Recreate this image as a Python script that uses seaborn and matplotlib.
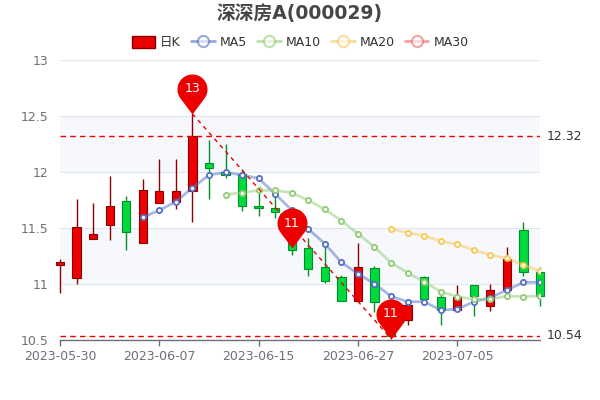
import numpy as np
import pandas as pd
import matplotlib
matplotlib.use("Agg")
import matplotlib.pyplot as plt
import seaborn as sns
from matplotlib.path import Path
from matplotlib.lines import Line2D
from matplotlib.patches import Patch

# ---------------- data ----------------
dates = ["2023-05-30", "2023-05-31", "2023-06-01", "2023-06-02", "2023-06-05",
         "2023-06-06", "2023-06-07", "2023-06-08", "2023-06-09", "2023-06-12",
         "2023-06-13", "2023-06-14", "2023-06-15", "2023-06-16", "2023-06-19",
         "2023-06-20", "2023-06-21", "2023-06-26", "2023-06-27", "2023-06-28",
         "2023-06-29", "2023-06-30", "2023-07-03", "2023-07-04", "2023-07-05",
         "2023-07-06", "2023-07-07", "2023-07-10", "2023-07-11", "2023-07-12"]
opens = [11.17, 11.05, 11.40, 11.53, 11.74, 11.37, 11.72, 11.73, 11.83, 12.08,
         12.00, 11.98, 11.70, 11.68, 11.45, 11.32, 11.15, 11.06, 10.85, 11.14,
         10.80, 10.68, 11.06, 10.88, 10.77, 10.99, 10.80, 10.95, 11.48, 11.11]
closes = [11.20, 11.51, 11.45, 11.70, 11.46, 11.84, 11.83, 11.83, 12.32, 12.04,
          11.97, 11.70, 11.68, 11.64, 11.30, 11.13, 11.03, 10.85, 11.15, 10.84,
          10.54, 10.81, 10.87, 10.77, 10.88, 10.89, 10.95, 11.22, 11.11, 10.89]
highs = [11.22, 11.76, 11.72, 11.96, 11.79, 11.94, 12.12, 12.12, 12.52, 12.29,
         12.25, 12.03, 11.82, 11.79, 11.50, 11.41, 11.35, 11.08, 11.37, 11.16,
         10.85, 10.81, 11.07, 10.90, 10.99, 10.99, 11.00, 11.33, 11.55, 11.15]
lows = [10.92, 11.00, 11.40, 11.39, 11.30, 11.37, 11.72, 11.67, 11.55, 11.76,
        11.95, 11.65, 11.61, 11.59, 11.26, 11.07, 11.01, 10.85, 10.85, 10.75,
        10.51, 10.63, 10.87, 10.63, 10.76, 10.71, 10.76, 10.95, 11.07, 10.80]

ma5 = [np.nan] * 5 + [11.595, 11.658, 11.735, 11.860, 11.973, 11.997, 11.973, 11.943,
                      11.804, 11.660, 11.491, 11.360, 11.193, 11.092, 11.003, 10.890,
                      10.842, 10.842, 10.768, 10.774, 10.842, 10.878, 10.946, 11.015,
                      11.015]
ma10 = [np.nan] * 10 + [11.798, 11.815, 11.836, 11.836, 11.815, 11.747, 11.667, 11.565,
                        11.449, 11.330, 11.190, 11.101, 11.018, 10.932, 10.887, 10.863,
                        10.863, 10.893, 10.887, 10.893]
ma20 = [np.nan] * 20 + [11.491, 11.458, 11.432, 11.381, 11.354, 11.304, 11.259, 11.229,
                        11.170, 11.113]
ma30 = [np.nan] * 30

max_close = 12.32
min_close = 10.54
pin_idx = [8, 14, 20]
pin_val = [12.52, 11.32, 10.51]
tick_idx = [0, 6, 12, 18, 24]

# ---------------- style ----------------
sns.set_theme(style="white")
plt.rcParams["font.family"] = ["DejaVu Sans", "Noto Sans CJK SC"]

UP, UP_B = "#ec0000", "#8a0000"
DN, DN_B = "#00da3c", "#008f28"
C5, C10, C20, C30 = "#5470c6", "#91cc75", "#fac858", "#ee6666"
AX = "#6e7079"

fig = plt.figure(figsize=(6, 4), dpi=100)
ax = fig.add_axes([0.1, 0.15, 0.8, 0.70])
ax.set_xlim(0, 29)
ax.set_ylim(10.5, 13)

# split areas & grid
for lo in (11.0, 12.0):
    ax.axhspan(lo, lo + 0.5, color="#f6f8fc", zorder=0, lw=0)
for yv in np.arange(10.5, 13.01, 0.5):
    ax.axhline(yv, color="#e0e6f1", lw=0.8, zorder=0.5)

df = pd.DataFrame({"i": np.arange(len(dates)), "date": dates, "open": opens,
                   "close": closes, "high": highs, "low": lows,
                   "MA5": ma5, "MA10": ma10, "MA20": ma20, "MA30": ma30})

# candles
for _, r in df.iterrows():
    up = r.close >= r.open
    fc, ec = (UP, UP_B) if up else (DN, DN_B)
    ax.vlines(r.i, r.low, r.high, color=ec, lw=1.0, zorder=2, clip_on=False)
    bot = min(r.open, r.close)
    h = max(abs(r.close - r.open), 0.004)
    ax.bar(r.i, h, bottom=bot, width=0.5, color=fc, edgecolor=ec,
           linewidth=0.8, zorder=3, clip_on=False)

# moving averages
for name, col in (("MA5", C5), ("MA10", C10), ("MA20", C20), ("MA30", C30)):
    sub = df[["i", name]].dropna()
    if len(sub) == 0:
        continue
    sns.lineplot(data=sub, x="i", y=name, ax=ax, color=col, lw=2, alpha=0.5,
                 zorder=4, sort=False)
    sns.scatterplot(data=sub, x="i", y=name, ax=ax, color="white",
                    edgecolor=col, s=14, linewidth=1.3, zorder=5)

# mark lines
for v in (max_close, min_close):
    ax.axhline(v, color=UP, lw=1, ls=(0, (4, 3)), zorder=6)
    ax.annotate(f"{v:.2f}", xy=(1, v), xycoords=("axes fraction", "data"),
                xytext=(5, 0), textcoords="offset points", va="center",
                ha="left", fontsize=9, color="#333333")
ax.plot([pin_idx[0], pin_idx[2]], [highs[pin_idx[0]], lows[pin_idx[2]]],
        color=UP, lw=1, ls=(0, (3, 3)), zorder=6)

# pins
def pin_path(r=15, c=25):
    a = np.arccos(r / c)
    t = np.linspace(-np.pi / 2 + a, 3 * np.pi / 2 - a, 80)
    verts = [(0, 0)] + list(zip(r * np.cos(t), c + r * np.sin(t))) + [(0, 0)]
    codes = [Path.MOVETO] + [Path.LINETO] * (len(verts) - 2) + [Path.CLOSEPOLY]
    return Path(verts, codes)

pp = pin_path()
for xi, v in zip(pin_idx, pin_val):
    ax.plot([xi], [v], marker=pp, markersize=57.6, color=UP, mec="none",
            zorder=8, clip_on=False)
    ax.annotate(f"{v:.0f}", xy=(xi, v), xytext=(0, 18), textcoords="offset points",
                ha="center", va="center", color="white", fontsize=9, zorder=9)

# axes styling
for s in ("top", "right", "left"):
    ax.spines[s].set_visible(False)
ax.spines["bottom"].set_color(AX)
ax.spines["bottom"].set_linewidth(1)
ax.spines["bottom"].set_zorder(7)
ax.set_xticks(tick_idx)
ax.set_xticklabels([dates[k] for k in tick_idx])
ax.set_yticks(np.arange(10.5, 13.01, 0.5))
ax.set_yticklabels(["10.5", "11", "11.5", "12", "12.5", "13"])
ax.tick_params(axis="x", colors=AX, labelsize=9, length=4, width=1, direction="out",
               bottom=True, pad=3)
ax.tick_params(axis="y", colors=AX, labelsize=9, length=0, pad=8)
ax.set_xlabel("")
ax.set_ylabel("")

# title & legend
fig.text(0.5, 0.965, "深深房A(000029)", ha="center", va="center", fontsize=13.5,
         fontweight="bold", color="#464646",
         family=["DejaVu Sans", "Noto Sans CJK SC"])
handles = [Patch(facecolor=UP, edgecolor=UP_B, linewidth=1)]
for col in (C5, C10, C20, C30):
    handles.append(Line2D([0], [0], color=col, lw=2, alpha=0.6, marker="o",
                          markersize=8, markerfacecolor="white",
                          markeredgecolor=col, markeredgewidth=1.5))
leg = fig.legend(handles, ["日K", "MA5", "MA10", "MA20", "MA30"], loc="center",
                 bbox_to_anchor=(0.5, 0.893), ncol=5, frameon=False,
                 fontsize=9, handlelength=1.9, handleheight=1.0,
                 columnspacing=0.8, handletextpad=0.4,
                 prop={"family": ["DejaVu Sans", "Noto Sans CJK SC"], "size": 9})
for t in leg.get_texts():
    t.set_color("#333333")

fig.savefig("out.png", dpi=100)
